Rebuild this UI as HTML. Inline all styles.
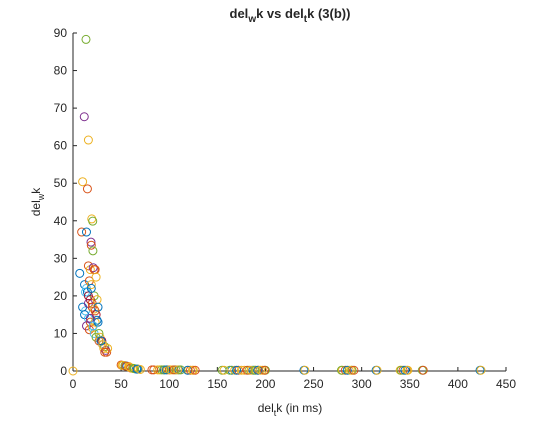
<!DOCTYPE html>
<html><head><meta charset="utf-8"><style>
body{margin:0;background:#fff;width:560px;height:420px;overflow:hidden}
svg text{font-family:"Liberation Sans",sans-serif;fill:#262626}
</style></head><body>
<svg id="c" width="560" height="420">
<text x="290" y="18" text-anchor="middle" font-size="13" font-weight="bold">del<tspan dy="4" font-size="10">w</tspan><tspan dy="-4">k vs del</tspan><tspan dy="4" font-size="10">t</tspan><tspan dy="-4">k (3(b))</tspan></text>
<text x="290" y="412" text-anchor="middle" font-size="12">del<tspan dy="4" font-size="9">t</tspan><tspan dy="-4">k (in ms)</tspan></text>
<text transform="translate(40,202) rotate(-90)" text-anchor="middle" font-size="12">del<tspan dy="4" font-size="9">w</tspan><tspan dy="-4">k</tspan></text>
<g id="axes"></g><g id="pts"></g>
</svg>
<script>
const xTicks=[0,50,100,150,200,250,300,350,400,450];
const yTicks=[0,10,20,30,40,50,60,70,80,90];
const xVals=[0,13.5,11.7,16,10,15,19.5,20.5,9,14,18.7,19,20.7,7,16,18,21,23,12,14,17,19,22,15,18,20,25,10,13,16,20,22,24,12,16,18,21,23,25,14,17,20,22,26,24,27,28,30,31,32,33,34,35,36,
13,16,19,22,24,26,18,21,23,27,29,31,33,
50,52,54,56,58,60,62,64,66,68,82,90,92,95,98,100,103,107,110,120,122,125,155,165,168,172,178,183,187,190,193,197,200,240,280,283,287,290,315,340,343,347,363,423,
51,55,59,63,67,70,84,88,94,97,101,105,109,112,119,124,127,157,163,170,175,181,185,189,192,195,199,241,279,285,289,292,316,341,345,348,364,424];
const yVals=[0,88.3,67.7,61.5,50.4,48.5,40.5,39.9,37,37,34.3,33.5,32,26,28,27,27.5,27,23,22,24,23,20,21,19,18,19,17,16,18,17,16.5,15,15,14,13,12,13,13.5,12,11,11.5,10,13,9,8,9,8,7,6,6.5,5.5,5,6,
21,20,22,27,25,17,14,12,16,10,8,7,5,
1.6,1.5,1.4,1.3,1.2,0.8,0.7,0.6,0.5,0.5,0.3,0.3,0.3,0.3,0.3,0.3,0.3,0.3,0.3,0.2,0.2,0.2,0.2,0.2,0.2,0.2,0.2,0.2,0.2,0.2,0.2,0.2,0.2,0.2,0.2,0.2,0.2,0.2,0.2,0.2,0.2,0.2,0.2,0.2,
1.5,1.3,1.0,0.7,0.5,0.4,0.3,0.3,0.3,0.3,0.3,0.3,0.3,0.3,0.2,0.2,0.2,0.2,0.2,0.2,0.2,0.2,0.2,0.2,0.2,0.2,0.2,0.2,0.2,0.2,0.2,0.2,0.2,0.2,0.2,0.2,0.2,0.2];
const colors=["#0072BD","#D95319","#EDB120","#7E2F8E","#77AC30","#4DBEEE","#A2142F"];
const X0=73,X1=506,Y0=371,Y1=33;
const xs=v=>X0+v/450*(X1-X0), ys=v=>Y0-v/90*(Y0-Y1);
const NS="http://www.w3.org/2000/svg";
const ax=document.getElementById('axes'), pts=document.getElementById('pts');
function mk(t,a,p){const e=document.createElementNS(NS,t);for(const k in a)e.setAttribute(k,a[k]);p.appendChild(e);return e;}
const xl=mk('line',{x1:X0,y1:Y0,x2:X1,y2:Y0,stroke:'#262626','stroke-width':1},ax);


const yl=mk('line',{x1:X0,y1:Y0,x2:X0,y2:Y1,stroke:'#262626','stroke-width':1},ax);


xTicks.forEach(v=>{const x=xs(v);mk('line',{x1:x,y1:Y0,x2:x,y2:Y0-4,stroke:'#262626'},ax);
const t=mk('text',{x:x,y:Y0+17,'text-anchor':'middle','font-size':12},ax);t.textContent=v;

});
yTicks.forEach(v=>{const y=ys(v);mk('line',{x1:X0,y1:y,x2:X0+4,y2:y,stroke:'#262626'},ax);
const t=mk('text',{x:X0-6,y:y+4,'text-anchor':'end','font-size':12},ax);t.textContent=v;

});
const cIdx=[2,4,3,2,2,1,2,4,1,0,3,1,4,0,1,2,3,1,0,5,1,2,4,0,6,1,2,0,5,3,1,2,6,0,5,1,4,2,0,3,1,2,5,0,4,1,2,6,0,2,4,3,1,2,
5,6,0,1,2,0,3,5,1,4,0,2,1];
xVals.forEach((v,i)=>{const c=i<cIdx.length?colors[cIdx[i]]:colors[[0,2,1,2,4][i%5]];
const p=mk('circle',{cx:xs(v),cy:ys(yVals[i]),r:4,fill:'none',stroke:c,'stroke-width':1},pts);

});
</script>
</body></html>
